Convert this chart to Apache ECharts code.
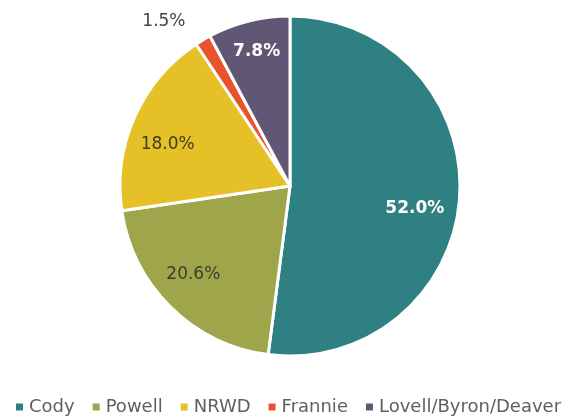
<!DOCTYPE html>
<html>
<head>
<meta charset="utf-8">
<style>
  html, body { margin: 0; padding: 0; background: #fff; }
  #chart { width: 565px; height: 418px; }
</style>
<script src="https://cdn.jsdelivr.net/npm/echarts@6/dist/echarts.min.js"></script>
</head>
<body>
<div id="chart"></div>
<script>
// Share of total by service area (percent)
const categories = ['Cody', 'Powell', 'NRWD', 'Frannie', 'Lovell/Byron/Deaver'];
const shares = [52.0, 20.6, 18.0, 1.5, 7.8];

// Slice colours and label styling
const colors = ['#2e8083', '#9ea54b', '#e5c127', '#e8532b', '#5f5774'];
const labelColors = ['#ffffff', '#3d3d2e', '#3d3a22', '#444444', '#ffffff'];
const labelWeights = ['bold', 'normal', 'normal', 'normal', 'bold'];
const labelOffsets = [[37, 17], [-35, 26], [-42, -6], [-81, -89], [-12, -49]];

const data = categories.map((name, i) => ({
  name,
  value: shares[i],
  itemStyle: { color: colors[i] },
  label: {
    color: labelColors[i],
    fontWeight: labelWeights[i],
    offset: labelOffsets[i]
  }
}));

const chart = echarts.init(document.getElementById('chart'), null, { renderer: 'canvas' });
chart.setOption({
  animation: false,
  legend: {
    top: 398,
    left: 14,
    icon: 'rect',
    itemWidth: 9,
    itemHeight: 9,
    itemGap: 16,
    padding: 0,
    textStyle: { fontFamily: 'DejaVu Sans', fontSize: 18, color: '#606060' },
    data: categories
  },
  series: [{
    type: 'pie',
    center: [290, 186],
    radius: 170,
    startAngle: 90,
    clockwise: true,
    avoidLabelOverlap: false,
    itemStyle: { borderColor: '#ffffff', borderWidth: 3 },
    label: {
      show: true,
      position: 'inside',
      fontFamily: 'DejaVu Sans',
      fontSize: 17,
      formatter: p => p.value.toFixed(1) + '%'
    },
    labelLine: { show: false },
    emphasis: { disabled: true },
    data
  }]
});
</script>
</body>
</html>
